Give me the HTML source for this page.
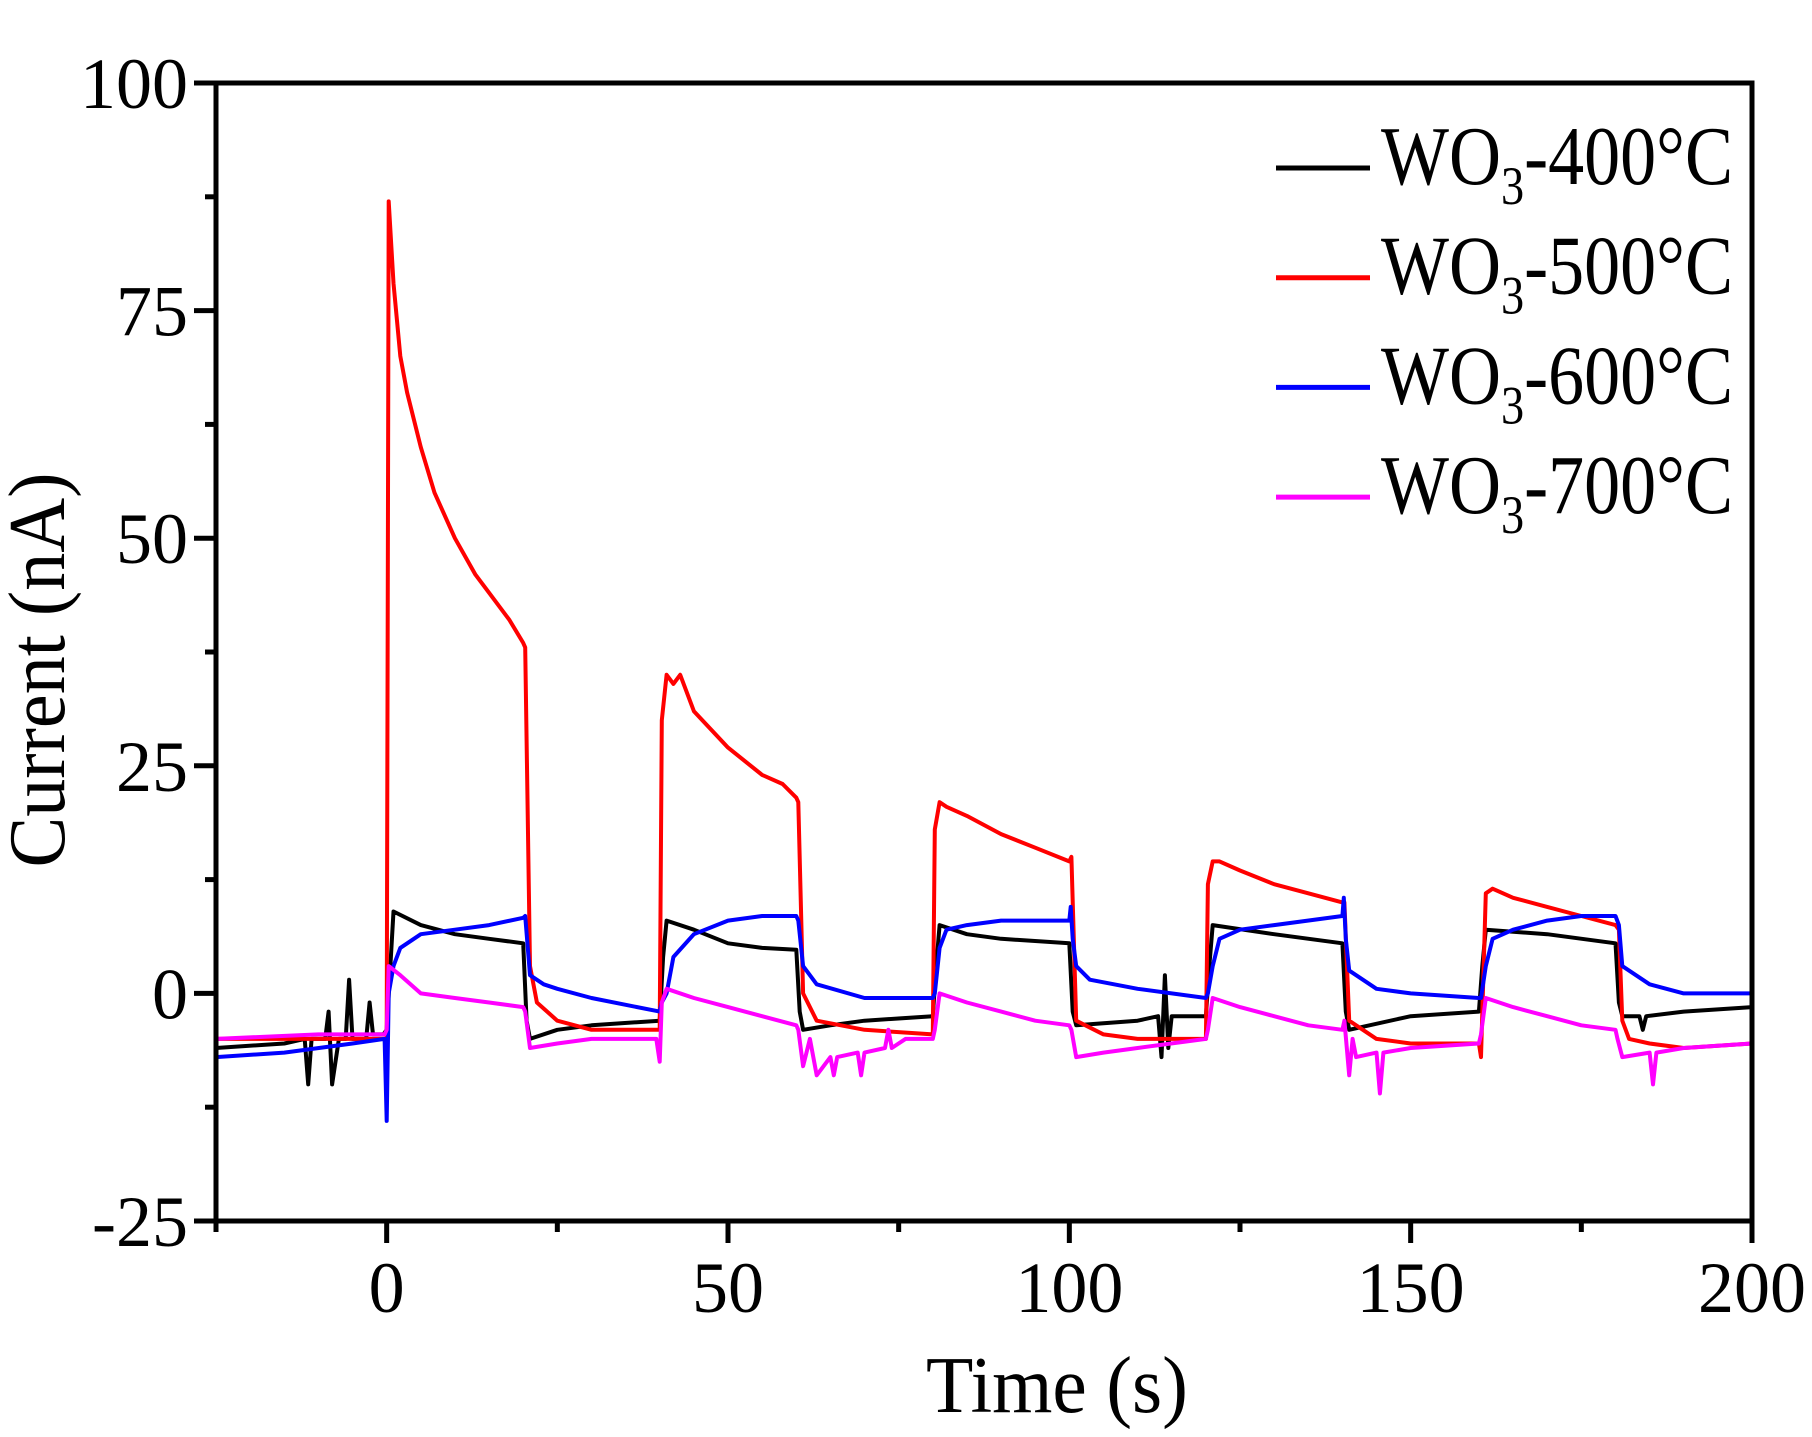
<!DOCTYPE html>
<html><head><meta charset="utf-8"><style>
html,body{margin:0;padding:0;background:#fff}
svg{display:block;font-family:"Liberation Serif",serif}
</style></head><body>
<svg id="chart" width="1812" height="1437" viewBox="0 0 1812 1437"></svg>
<script>
const xTicks=[0,50,100,150,200];
const yTicks=[-25,0,25,50,75,100];
const seriesNames=["WO3-400°C","WO3-500°C","WO3-600°C","WO3-700°C"];
const seriesColors=["#000000","#ff0000","#0000ff","#ff00ff"];
const t400=[-25,-15,-12,-11.5,-11,-9,-8.5,-8,-7,-6,-5.5,-5,-3,-2.5,-2,-0.5,0,1,5,10,15,20,20.5,21,25,30,40,40.5,41,45,50,55,60,60.5,61,65,70,80,80.5,81,85,90,100,100.5,101,110,113,113.5,114,114.5,115,120,120.5,121,130,140,140.5,141,150,160,160.5,161,170,180,180.5,181,183.5,184,184.5,190,200];
const v400=[-6,-5.5,-5,-10,-5,-5,-2,-10,-5,-5,1.5,-5,-5,-1,-4.5,-4.5,-4,9,7.5,6.5,6,5.5,-3,-5,-4,-3.5,-3,4,8,7,5.5,5,4.8,-2,-4,-3.5,-3,-2.5,3,7.5,6.5,6,5.5,-2,-3.5,-3,-2.5,-7,2,-6,-2.5,-2.5,3,7.5,6.5,5.5,-2,-4,-2.5,-2,3,7,6.5,5.5,-1,-2.5,-2.5,-4,-2.5,-2,-1.5];
const t500=[-25,-10,0,0.3,1,2,3,5,7,10,13,15,18,20,20.3,21,22,25,30,40,40.3,41,42,43,45,50,55,58,60,60.3,61,63,70,80,80.3,81,82,85,90,95,100,100.3,101,105,110,120,120.3,121,122,125,130,135,140,140.3,141,145,150,160,160.3,161,162,165,170,175,180,180.5,181,182,185,190,200];
const v500=[-5,-5,-5,87,78,70,66,60,55,50,46,44,41,38.5,38,3,-1,-3,-4,-4,30,35,34,35,31,27,24,23,21.5,21,0,-3,-4,-4.5,18,21,20.5,19.5,17.5,16,14.5,15,-3,-4.5,-5,-5,12,14.5,14.5,13.5,12,11,10,10,-3,-5,-5.5,-5.5,-7,11,11.5,10.5,9.5,8.5,7.5,7,-3,-5,-5.5,-6,-5.5];
const t600=[-25,-15,-5,-0.3,0,0.3,1,2,5,10,15,20,20.3,21,23,25,30,40,40.3,41,42,45,50,55,60,60.3,61,63,70,80,80.3,81,82,85,90,100,100.2,100.5,101,103,110,120,120.3,121,122,125,130,140,140.2,140.5,141,145,150,160,160.3,161,162,165,170,175,180,180.5,181,185,190,200];
const v600=[-7,-6.5,-5.5,-5,-14,0,3,5,6.5,7,7.5,8.3,8.5,2,1,0.5,-0.5,-2,-1,0,4,6.5,8,8.5,8.5,8,3,1,-0.5,-0.5,0,5,7,7.5,8,8,9.5,6,3,1.5,0.5,-0.5,0,3,6,7,7.5,8.5,10.5,6,2.5,0.5,0,-0.5,-0.5,3,6,7,8,8.5,8.5,7.5,3,1,0,0];
const t700=[-25,-10,-0.3,0,0.3,2,5,10,15,20,20.3,21,25,30,39.5,40,40.3,41,45,50,55,60,60.3,61,62,63,65,65.5,66,69,69.5,70,73,73.5,74,76,80,80.3,81,85,90,95,100,100.3,101,105,110,120,120.3,121,125,130,135,140,140.3,141,141.5,142,145,145.5,146,150,160,160.3,161,165,170,175,180,180.3,181,185,185.5,186,190,200];
const v700=[-5,-4.5,-4.5,-4,3,2,0,-0.5,-1,-1.5,-2,-6,-5.5,-5,-5,-7.5,-1,0.5,-0.5,-1.5,-2.5,-3.5,-4,-8,-5,-9,-7,-9,-7,-6.5,-9,-6.5,-6,-4,-6,-5,-5,-4,0,-1,-2,-3,-3.5,-4,-7,-6.5,-6,-5,-4,-0.5,-1.5,-2.5,-3.5,-4,-3,-9,-5,-7,-6.5,-11,-6.5,-6,-5.5,-4.5,-0.5,-1.5,-2.5,-3.5,-4,-5,-7,-6.5,-10,-6.5,-6,-5.5];

const NS="http://www.w3.org/2000/svg";
const svg=document.getElementById('chart');
const X0=216,X1=1752,Y0=1221,Y1=83,XMIN=-25,XMAX=200,YMIN=-25,YMAX=100;
function sx(t){return X0+(t-XMIN)/(XMAX-XMIN)*(X1-X0);}
function sy(v){return Y0-(v-YMIN)/(YMAX-YMIN)*(Y0-Y1);}
function mk(tag,attrs){const e=document.createElementNS(NS,tag);for(const k in attrs)e.setAttribute(k,attrs[k]);svg.appendChild(e);return e;}

const data=[[t400,v400],[t500,v500],[t600,v600],[t700,v700]];
const seriesKeys=["series-400c","series-500c","series-600c","series-700c"];
data.forEach((d,i)=>{
  const pts=d[0].map((t,j)=>sx(t).toFixed(1)+","+sy(d[1][j]).toFixed(1)).join(" ");
  const p=mk('polyline',{points:pts,fill:'none',stroke:seriesColors[i],'stroke-width':4,'stroke-linejoin':'round'});
  
  
});

const fr=mk('rect',{x:X0,y:Y1,width:X1-X0,height:Y0-Y1,fill:'none',stroke:'#000','stroke-width':5});



for(let t=-25;t<=200;t+=25){
  const major=(t%50===0);
  const tk=mk('line',{x1:sx(t),x2:sx(t),y1:Y0,y2:Y0+(major?22:11),stroke:'#000','stroke-width':5});
  
  
}
xTicks.forEach(t=>{
  const tx=mk('text',{x:sx(t),y:1312,'text-anchor':'middle','font-size':72});
  tx.textContent=t;
  
  
});
for(let v=-25;v<=100;v+=12.5){
  const major=(v%25===0);
  const tk=mk('line',{x1:X0,x2:X0-(major?22:11),y1:sy(v),y2:sy(v),stroke:'#000','stroke-width':5});
  
  
}
yTicks.forEach(v=>{
  const tx=mk('text',{x:188,y:sy(v)+25,'text-anchor':'end','font-size':72});
  tx.textContent=v;
  
  
});
const xt=mk('text',{x:1057,y:1412,'text-anchor':'middle','font-size':80,textLength:262,lengthAdjust:'spacingAndGlyphs'});
xt.textContent="Time (s)";


const yt=mk('text',{x:0,y:0,'text-anchor':'middle','font-size':80,textLength:395,lengthAdjust:'spacingAndGlyphs',transform:'translate(64,670) rotate(-90)'});
yt.textContent="Current (nA)";



const temps=["400","500","600","700"];
temps.forEach((tp,i)=>{
  const ly=168+i*109.7;
  const ln=mk('line',{x1:1276,x2:1370,y1:ly,y2:ly,stroke:seriesColors[i],'stroke-width':5});
  
  
  const tx=mk('text',{x:1381,y:ly+16,'font-size':84,textLength:352,lengthAdjust:'spacingAndGlyphs'});
  tx.innerHTML='WO<tspan font-size="54" dy="20">3</tspan><tspan dy="-20">-'+tp+'°C</tspan>';
  
  
});
</script>
</body></html>
